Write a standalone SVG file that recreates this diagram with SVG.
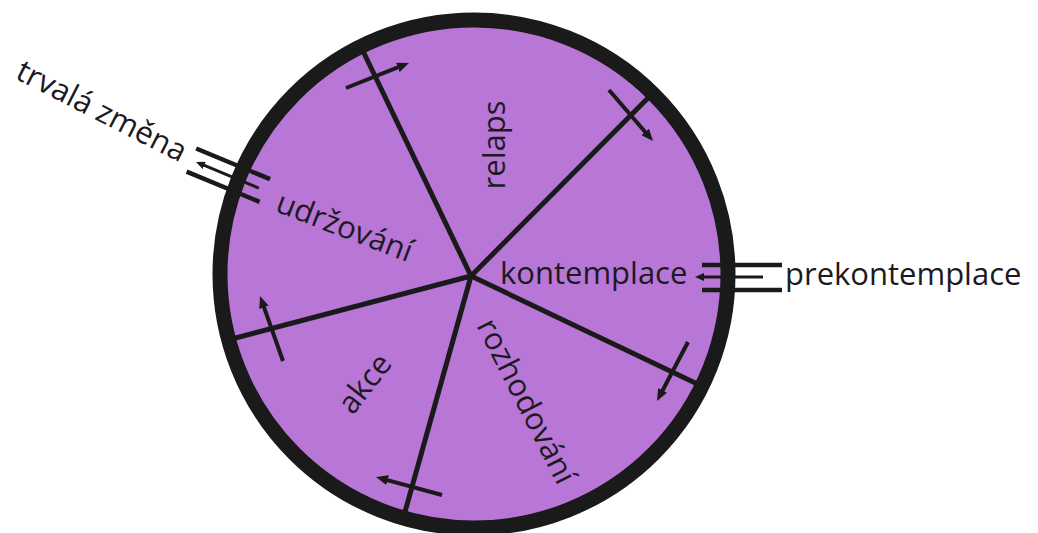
<svg xmlns="http://www.w3.org/2000/svg" width="1038" height="533" viewBox="0 0 1038 533">
<style>
.lbl{font-family:"Open Sans","Noto Sans","Liberation Sans",sans-serif;font-size:31px;fill:#1d1a1f}
.spoke{stroke:#1a1a1a;stroke-width:5;stroke-linecap:butt;fill:none}
.arr{stroke:#1a1a1a;stroke-width:4;fill:none}
.bar{stroke:#1a1a1a;stroke-width:4.5;fill:none}
.mid{stroke:#1a1a1a;stroke-width:3;fill:none}
</style>
<defs>
<marker id="ah" viewBox="0 0 12 10" refX="6" refY="5" markerWidth="12" markerHeight="10" markerUnits="userSpaceOnUse" orient="auto">
<path d="M0,0 L12,5 L0,10 z" fill="#1a1a1a"/>
</marker>
<marker id="ahs" viewBox="0 0 9 8" refX="4.5" refY="4" markerWidth="9" markerHeight="8" markerUnits="userSpaceOnUse" orient="auto">
<path d="M0,0 L9,4 L0,8 z" fill="#1a1a1a"/>
</marker>
</defs>
<rect width="1038" height="533" fill="#ffffff"/>
<g id="wheel">
<circle cx="474" cy="274" r="254" fill="#b876d6"/>
</g>
<g id="connectors">
<line class="spoke" x1="471" y1="276" x2="362" y2="49"/>
<line class="spoke" x1="471" y1="276" x2="649" y2="97"/>
<line class="spoke" x1="471" y1="276" x2="699.5" y2="385"/>
<line class="spoke" x1="471" y1="276" x2="403" y2="519"/>
<line class="spoke" x1="471" y1="276" x2="228" y2="340"/>
<line class="arr" x1="346" y1="88" x2="403.4" y2="65.2" marker-end="url(#ah)"/>
<line class="arr" x1="609" y1="90" x2="649.1" y2="136.5" marker-end="url(#ah)"/>
<line class="arr" x1="688" y1="342" x2="659.8" y2="395.7" marker-end="url(#ah)"/>
<line class="arr" x1="442" y1="495" x2="381.8" y2="478.6" marker-end="url(#ah)"/>
<line class="arr" x1="283" y1="361" x2="262" y2="301.7" marker-end="url(#ah)"/>
</g>
<g id="rim">
<circle cx="474" cy="274" r="254" fill="none" stroke="#1a1a1a" stroke-width="15"/>
</g>
<g id="exit-trvala">
<g transform="translate(196,162) rotate(22.5)">
<line class="bar" x1="-5" y1="-12.5" x2="75" y2="-12.5"/>
<line class="bar" x1="-5" y1="12.5" x2="74" y2="12.5"/>
<line class="mid" x1="68" y1="0" x2="4.5" y2="0" marker-end="url(#ahs)"/>
</g>
</g>
<g id="entry-prekontemplace">
<line class="bar" x1="702" y1="265" x2="782" y2="265"/>
<line class="bar" x1="702" y1="290" x2="782" y2="290"/>
<line class="mid" x1="763" y1="277" x2="699.5" y2="277" marker-end="url(#ahs)"/>
</g>
<g id="node-trvala"><text class="lbl" transform="translate(14,78) rotate(27)">trvalá změna</text></g>
<g id="node-udrzovani"><text class="lbl" transform="translate(274,211) rotate(21)">udržování</text></g>
<g id="node-relaps"><text class="lbl" text-anchor="middle" transform="translate(505,145) rotate(-90)">relaps</text></g>
<g id="node-kontemplace"><text class="lbl" x="500" y="284">kontemplace</text></g>
<g id="node-prekontemplace"><text class="lbl" x="785" y="285">prekontemplace</text></g>
<g id="node-akce"><text class="lbl" text-anchor="middle" transform="translate(373,390) rotate(-52)">akce</text></g>
<g id="node-rozhodovani"><text class="lbl" text-anchor="middle" transform="translate(517,406) rotate(63)">rozhodování</text></g>
</svg>
